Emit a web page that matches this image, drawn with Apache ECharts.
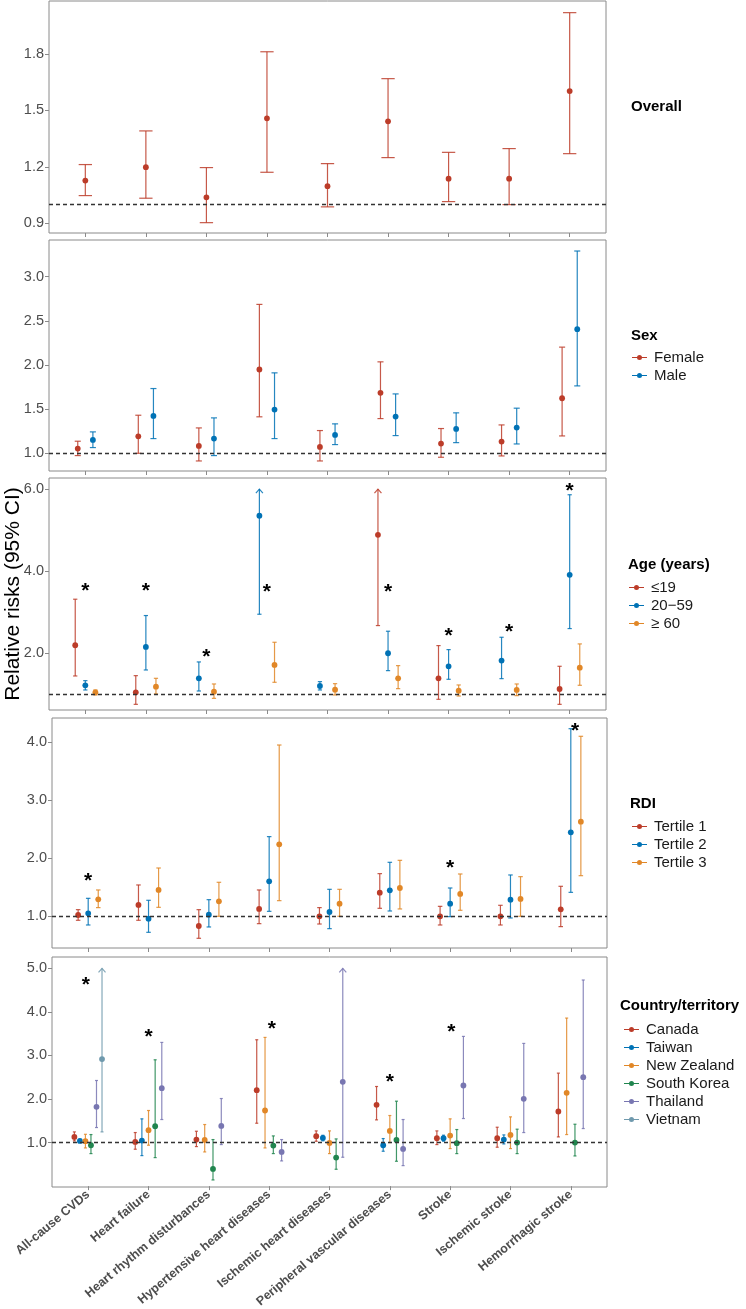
<!DOCTYPE html>
<html>
<head>
<meta charset="utf-8">
<title>Relative risks (95% CI)</title>
<script src="https://cdn.jsdelivr.net/npm/echarts@6/dist/echarts.min.js"></script>
<style>
  html, body { margin: 0; padding: 0; background: #fff; }
  #main { width: 746px; height: 1309px; }
</style>
</head>
<body>
<div id="main"></div>
<script>
// x轴：结局类别
const categories = ['All-cause CVDs', 'Heart failure', 'Heart rhythm disturbances', 'Hypertensive heart diseases',
  'Ischemic heart diseases', 'Peripheral vascular diseases', 'Stroke', 'Ischemic stroke', 'Hemorrhagic stroke'];

// Overall
const overallRR = [1.127, 1.198, 1.038, 1.458, 1.097, 1.442, 1.137, 1.137, 1.603];
const overallLo = [1.047, 1.033, 0.903, 1.171, 0.987, 1.249, 1.015, 0.999, 1.270];
const overallHi = [1.212, 1.391, 1.196, 1.812, 1.217, 1.669, 1.277, 1.297, 2.020];
const overallTicks = [0.9, 1.2, 1.5, 1.8];

// Sex
const sexGroups = ['Female', 'Male'];
const sexRR = [
  [1.049, 1.189, 1.080, 1.947, 1.068, 1.682, 1.106, 1.129, 1.621],
  [1.148, 1.420, 1.163, 1.492, 1.205, 1.413, 1.273, 1.288, 2.405]
];
const sexLo = [
  [0.970, 0.996, 0.909, 1.410, 0.909, 1.390, 0.951, 0.966, 1.193],
  [1.061, 1.163, 0.970, 1.163, 1.095, 1.197, 1.117, 1.102, 1.761]
];
const sexHi = [
  [1.133, 1.428, 1.284, 2.686, 1.254, 2.034, 1.277, 1.318, 2.201],
  [1.239, 1.731, 1.398, 1.909, 1.330, 1.670, 1.455, 1.508, 3.292]
];
const sexTicks = [1.0, 1.5, 2.0, 2.5, 3.0];

// Age (years)，上限截断于 6.0
const ageGroups = ['≤19', '20−59', '≥ 60'];
const ageRR = [
  [2.195, 1.049, null, null, null, 4.886, 1.390, null, 1.130],
  [1.220, 2.154, 1.390, 5.350, 1.203, 2.000, 1.683, 1.821, 3.911],
  [1.049, 1.187, 1.065, 1.715, 1.114, 1.390, 1.089, 1.106, 1.650]
];
const ageLo = [
  [1.447, 0.756, null, null, null, 2.675, 0.878, null, 0.756],
  [1.106, 1.593, 1.081, 2.951, 1.106, 1.577, 1.366, 1.382, 2.602],
  [0.984, 1.008, 0.902, 1.293, 0.984, 1.138, 0.959, 0.968, 1.220]
];
const ageHi = [
  [3.317, 1.455, null, null, null, 6.0, 2.187, null, 1.683],
  [1.333, 2.919, 1.789, 6.0, 1.309, 2.537, 2.089, 2.390, 5.862],
  [1.106, 1.390, 1.252, 2.268, 1.260, 1.699, 1.228, 1.252, 2.228]
];
const ageLimit = 6.0;
const ageTicks = [2.0, 4.0, 6.0];
const ageStars = [[1, 3.64], [2, 3.64], [3, 2.02], [4, 3.61], [6, 3.61], [7, 2.53], [8, 2.63], [9, 6.07]];

// RDI
const rdiGroups = ['Tertile 1', 'Tertile 2', 'Tertile 3'];
const rdiRR = [
  [1.022, 1.195, 0.833, 1.126, 1.000, 1.407, 1.000, 1.000, 1.120],
  [1.051, 0.959, 1.028, 1.602, 1.074, 1.447, 1.217, 1.286, 2.445],
  [1.292, 1.453, 1.258, 2.239, 1.217, 1.487, 1.384, 1.298, 2.629]
];
const rdiLo = [
  [0.931, 0.931, 0.621, 0.873, 0.867, 1.137, 0.850, 0.850, 0.822],
  [0.850, 0.724, 0.816, 1.085, 0.787, 1.091, 0.994, 0.971, 1.412],
  [1.149, 1.154, 1.000, 1.269, 1.000, 1.126, 1.103, 1.000, 1.699]
];
const rdiHi = [
  [1.114, 1.539, 1.114, 1.453, 1.149, 1.734, 1.171, 1.189, 1.516],
  [1.309, 1.275, 1.286, 2.371, 1.464, 1.929, 1.487, 1.711, 4.229],
  [1.453, 1.831, 1.585, 3.948, 1.464, 1.963, 1.728, 1.682, 4.098]
];
const rdiTicks = [1.0, 2.0, 3.0, 4.0];
const rdiStars = [[1, 1.69], [7, 1.92], [9.07, 4.28]];

// Country/territory，上限截断于 5.0
const countryGroups = ['Canada', 'Taiwan', 'New Zealand', 'South Korea', 'Thailand', 'Vietnam'];
const countryRR = [
  [1.130, 1.015, 1.069, 2.203, 1.146, 1.866, 1.100, 1.100, 1.713],
  [1.038, 1.046, null, null, 1.106, 0.939, 1.100, 1.069, null],
  [1.031, 1.284, 1.061, 1.736, 0.990, 1.268, 1.161, 1.176, 2.142],
  [0.939, 1.375, 0.395, 0.931, 0.655, 1.061, 0.985, 1.000, 1.000],
  [1.820, 2.249, 1.383, 0.785, 2.395, 0.854, 2.310, 2.004, 2.502],
  [2.916, null, null, null, null, null, null, null, null]
];
const countryLo = [
  [1.038, 0.847, 0.908, 1.444, 1.030, 1.521, 0.954, 0.893, 1.130],
  [1.005, 0.701, null, null, 1.040, 0.801, 1.031, 0.969, null],
  [0.877, 0.939, 0.785, 0.877, 0.747, 1.000, 0.862, 0.862, 1.184],
  [0.747, 0.655, 0.142, 0.747, 0.387, 0.571, 0.747, 0.747, 0.693],
  [1.345, 1.529, 0.954, 0.579, 0.663, 0.471, 1.552, 1.230, 1.322],
  [1.245, null, null, null, null, null, null, null, null]
];
const countryHi = [
  [1.245, 1.230, 1.260, 3.360, 1.268, 2.287, 1.268, 1.352, 2.594],
  [1.070, 1.544, null, null, 1.167, 1.092, 1.169, 1.176, null],
  [1.190, 1.736, 1.414, 3.414, 1.268, 1.621, 1.544, 1.590, 3.858],
  [1.184, 2.900, 1.069, 1.153, 1.084, 1.950, 1.299, 1.307, 1.421],
  [2.425, 3.299, 2.011, 1.069, 5.0, 1.529, 3.437, 3.276, 4.732],
  [5.0, null, null, null, null, null, null, null, null]
];
const countryLimit = 5.0;
const countryTicks = [1.0, 2.0, 3.0, 4.0, 5.0];
const countryStars = [[0.96, 4.73], [2, 3.53], [4.045, 3.72], [6, 2.49], [7.02, 3.65]];

// NEJM 配色
const palette = ['#BC3C29', '#0072B5', '#E18727', '#20854E', '#7876B1', '#6F99AD'];
const FONT = '"Liberation Sans", Arial, sans-serif';
const legendIcon = 'path://M0,2H15V3H0Z M5,2.5A2.5,2.5 0 1,1 10,2.5A2.5,2.5 0 1,1 5,2.5Z';

// 各面板布局
const panels = [
  { title: 'Overall', groups: ['Overall'], rr: [overallRR], lo: [overallLo], hi: [overallHi], ticks: overallTicks,
    stars: [], limit: null, left: 49, top: 1, width: 557, height: 232, yMin: 0.848, yMax: 2.082,
    cap: 0.22, dodge: 0.5, titleLeft: 631, titleTop: 99 },
  { title: 'Sex', groups: sexGroups, rr: sexRR, lo: sexLo, hi: sexHi, ticks: sexTicks,
    stars: [], limit: null, left: 49, top: 240, width: 557, height: 231, yMin: 0.795, yMax: 3.417,
    cap: 0.1, dodge: 0.5, titleLeft: 631, titleTop: 328, legendLeft: 632, legendTop: 350 },
  { title: 'Age (years)', groups: ageGroups, rr: ageRR, lo: ageLo, hi: ageHi, ticks: ageTicks,
    stars: ageStars, limit: ageLimit, left: 49, top: 478, width: 557, height: 232, yMin: 0.618, yMax: 6.27,
    cap: 0.07, dodge: 0.5, titleLeft: 628, titleTop: 557, legendLeft: 629, legendTop: 580 },
  { title: 'RDI', groups: rdiGroups, rr: rdiRR, lo: rdiLo, hi: rdiHi, ticks: rdiTicks,
    stars: rdiStars, limit: null, left: 52, top: 718, width: 555, height: 230, yMin: 0.454, yMax: 4.413,
    cap: 0.075, dodge: 0.5, titleLeft: 630, titleTop: 796, legendLeft: 632, legendTop: 819 },
  { title: 'Country/territory', groups: countryGroups, rr: countryRR, lo: countryLo, hi: countryHi, ticks: countryTicks,
    stars: countryStars, limit: countryLimit, left: 52, top: 957, width: 555, height: 230, yMin: -0.02, yMax: 5.26,
    cap: 0.05, dodge: 0.55, titleLeft: 620, titleTop: 998, legendLeft: 624, legendTop: 1022 }
];

// 组内位置错开（只计有数据的组）
function dodgeData(p, g) {
  const out = [];
  for (let c = 0; c < categories.length; c++) {
    if (p.rr[g][c] == null) continue;
    const present = [];
    for (let k = 0; k < p.groups.length; k++) if (p.rr[k][c] != null) present.push(k);
    const n = present.length;
    const rank = present.indexOf(g);
    const x = c + 1 + (rank - (n - 1) / 2) * (p.dodge / n);
    const hi = p.hi[g][c];
    const cut = p.limit != null && hi >= p.limit ? 1 : 0;
    out.push([x, p.rr[g][c], p.lo[g][c], hi, cut]);
  }
  return out;
}

function makeRender(capUnits) {
  return function (params, api) {
    const x = api.value(0);
    const pt = api.coord([x, api.value(1)]);
    const lo = api.coord([x, api.value(2)]);
    const hi = api.coord([x, api.value(3)]);
    const half = api.size([capUnits, 0])[0] / 2;
    const color = api.visual('color');
    const barStyle = { stroke: color, lineWidth: 1.2, opacity: 0.85, fill: null };
    const children = [
      { type: 'line', shape: { x1: lo[0], y1: lo[1], x2: hi[0], y2: hi[1] }, style: barStyle },
      { type: 'line', shape: { x1: lo[0] - half, y1: lo[1], x2: lo[0] + half, y2: lo[1] }, style: barStyle }
    ];
    if (api.value(4)) {
      children.push({ type: 'polyline', shape: { points: [[hi[0] - 3.5, hi[1] + 4], [hi[0], hi[1]], [hi[0] + 3.5, hi[1] + 4]] },
        style: barStyle });
    } else {
      children.push({ type: 'line', shape: { x1: hi[0] - half, y1: hi[1], x2: hi[0] + half, y2: hi[1] }, style: barStyle });
    }
    children.push({ type: 'circle', shape: { cx: pt[0], cy: pt[1], r: 2.9 }, style: { fill: color } });
    return { type: 'group', children: children };
  };
}

function renderStar(params, api) {
  const p = api.coord([api.value(0), api.value(1)]);
  return { type: 'text', x: p[0], y: p[1] + 5,
    style: { text: '*', fill: '#000', fontSize: 21, fontWeight: 'bold', fontFamily: FONT, align: 'center', verticalAlign: 'middle' } };
}

const grid = [], xAxis = [], yAxis = [], series = [], title = [], legend = [];
const xTicks = categories.map((d, i) => i + 1);

panels.forEach(function (p, i) {
  const last = i === panels.length - 1;
  grid.push({ left: p.left, top: p.top, width: p.width, height: p.height, show: true,
    containLabel: false, outerBoundsMode: 'none',
    borderColor: '#8a8a8a', borderWidth: 1, backgroundColor: '#fff' });
  xAxis.push({ type: 'value', gridIndex: i, min: 0.4, max: 9.6, position: 'bottom',
    axisLine: { show: false }, splitLine: { show: false },
    axisTick: { show: true, length: 4, customValues: xTicks, lineStyle: { color: '#8a8a8a' } },
    axisLabel: { show: last, customValues: xTicks, rotate: 40, margin: 6, fontSize: 12.5, fontWeight: 'bold',
      color: '#4D4D4D', fontFamily: FONT, formatter: v => categories[Math.round(v) - 1] || '' } });
  yAxis.push({ type: 'value', gridIndex: i, min: p.yMin, max: p.yMax,
    axisLine: { show: false }, splitLine: { show: false },
    axisTick: { show: true, length: 4, customValues: p.ticks, lineStyle: { color: '#8a8a8a' } },
    axisLabel: { customValues: p.ticks, margin: 5, fontSize: 14.5, color: '#4D4D4D', fontFamily: FONT,
      formatter: v => v.toFixed(1) },
    name: i === 2 ? 'Relative risks (95% CI)' : '', nameLocation: 'middle', nameGap: 25, nameMoveOverlap: false,
    nameTextStyle: { fontSize: 21, color: '#000', fontFamily: FONT } });

  // 参考线 RR = 1
  series.push({ type: 'line', name: 'ref' + i, xAxisIndex: i, yAxisIndex: i, data: [], z: 1, silent: true,
    markLine: { silent: true, symbol: ['none', 'none'], label: { show: false },
      lineStyle: { type: [4, 3], color: '#333', width: 1.3 }, data: [{ yAxis: 1 }] } });

  p.groups.forEach(function (g, k) {
    series.push({ type: 'custom', name: g, xAxisIndex: i, yAxisIndex: i, z: 3,
      itemStyle: { color: palette[k] }, renderItem: makeRender(p.cap),
      encode: { x: 0, y: [1, 2, 3] }, data: dodgeData(p, k) });
  });

  if (p.stars.length) {
    series.push({ type: 'custom', name: 'stars' + i, xAxisIndex: i, yAxisIndex: i, z: 4,
      renderItem: renderStar, encode: { x: 0, y: 1 }, data: p.stars });
  }

  title.push({ text: p.title, left: p.titleLeft, top: p.titleTop, padding: 0,
    textStyle: { fontSize: 15, fontWeight: 'bold', color: '#000', fontFamily: FONT } });
  if (i > 0) {
    legend.push({ data: p.groups, orient: 'vertical', left: p.legendLeft, top: p.legendTop, padding: 0,
      itemGap: 3, itemWidth: 15, itemHeight: 5, icon: legendIcon, selectedMode: false,
      textStyle: { fontSize: 15, color: '#1a1a1a', fontFamily: FONT, padding: [0, 0, 0, 2] } });
  }
});

const chart = echarts.init(document.getElementById('main'), null, { width: 746, height: 1309 });
chart.setOption({
  animation: false,
  backgroundColor: '#fff',
  textStyle: { fontFamily: FONT },
  title: title,
  legend: legend,
  grid: grid,
  xAxis: xAxis,
  yAxis: yAxis,
  series: series
});
</script>
</body>
</html>
